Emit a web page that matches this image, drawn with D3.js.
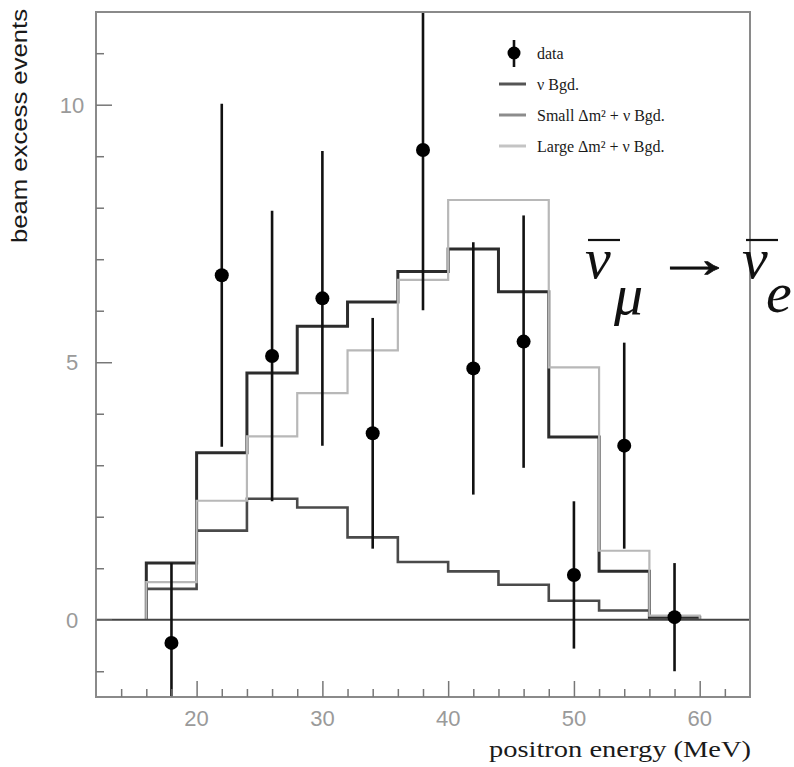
<!DOCTYPE html>
<html>
<head>
<meta charset="utf-8">
<script src="https://cdn.jsdelivr.net/npm/d3@7"></script>
<style>
  html, body { margin: 0; padding: 0; background: #fff; }
  svg { display: block; }
</style>
</head>
<body>
<svg id="chart" width="794" height="767"></svg>
<script>
// ---- data ----
const binEdges = [16, 20, 24, 28, 32, 36, 40, 44, 48, 52, 56, 60];
const nuBgd    = [0.60, 1.73, 2.35, 2.18, 1.60, 1.12, 0.94, 0.68, 0.37, 0.18, 0.05];
const smallDm2 = [1.10, 3.24, 4.79, 5.70, 6.17, 6.76, 7.20, 6.37, 3.55, 0.94, 0.05];
const largeDm2 = [0.73, 2.31, 3.56, 4.40, 5.23, 6.60, 8.15, 8.15, 4.90, 1.34, 0.08];
const dataE    = [18, 22, 26, 30, 34, 38, 42, 46, 50, 54, 58];
const dataVal  = [-0.45, 6.69, 5.12, 6.24, 3.62, 9.12, 4.88, 5.40, 0.87, 3.38, 0.05];
const dataErr  = [1.55, 3.33, 2.82, 2.86, 2.24, 3.11, 2.45, 2.45, 1.43, 2.00, 1.05];
const xMajorTicks = [20, 30, 40, 50, 60];
const yMajorTicks = [0, 5, 10];
const legendLabels = ["data", "ν Bgd.", "Small Δm² + ν Bgd.", "Large Δm² + ν Bgd."];
const xTitle = "positron energy (MeV)";
const yTitle = "beam excess events";

// ---- layout ----
const L = 96, R = 750, T = 12, B = 697;
const svg = d3.select("#chart");
const x = d3.scaleLinear().domain([12, 64]).range([L, R]);
const y = d3.scaleLinear().domain([-1.5, 11.8]).range([B, T]);

svg.append("defs").append("clipPath").attr("id", "clip")
  .append("rect").attr("x", L).attr("y", T).attr("width", R - L).attr("height", B - T);

const plot = svg.append("g").attr("clip-path", "url(#clip)");

// histograms
function histPath(vals) {
  const pts = [[binEdges[0], 0]];
  vals.forEach((v, i) => { pts.push([binEdges[i], v]); pts.push([binEdges[i + 1], v]); });
  pts.push([binEdges[binEdges.length - 1], 0]);
  return d3.line().x(d => x(d[0])).y(d => y(d[1]))(pts);
}
const series = [
  { vals: nuBgd, color: "#4a4a4a", w: 2.6 },
  { vals: smallDm2, color: "#2c2c2c", w: 3 },
  { vals: largeDm2, color: "#b8b8b8", w: 2.2 }
];
series.forEach(s => {
  plot.append("path").attr("d", histPath(s.vals))
    .attr("fill", "none").attr("stroke", s.color).attr("stroke-width", s.w);
});

// zero line
plot.append("line").attr("x1", L).attr("x2", R).attr("y1", y(0)).attr("y2", y(0))
  .attr("stroke", "#444").attr("stroke-width", 2);

// data points
const pts = plot.append("g");
dataE.forEach((e, i) => {
  pts.append("line").attr("x1", x(e)).attr("x2", x(e))
    .attr("y1", y(dataVal[i] - dataErr[i])).attr("y2", y(dataVal[i] + dataErr[i]))
    .attr("stroke", "#111").attr("stroke-width", 2.6);
  pts.append("circle").attr("cx", x(e)).attr("cy", y(dataVal[i])).attr("r", 7).attr("fill", "#000");
});

// frame
svg.append("rect").attr("x", L).attr("y", T).attr("width", R - L).attr("height", B - T)
  .attr("fill", "none").attr("stroke", "#8a8a8a").attr("stroke-width", 2);

// axes ticks (inward)
const yAxis = d3.axisRight(y).tickValues(d3.range(-1, 12)).tickSize(0).tickFormat("");
const yg = svg.append("g").attr("transform", `translate(${L},0)`).call(yAxis);
yg.select(".domain").remove();
yg.selectAll(".tick").append("line")
  .attr("x1", 0).attr("x2", d => yMajorTicks.includes(d) ? 16 : 8)
  .attr("stroke", "#777").attr("stroke-width", 1.5);

const xAxis = d3.axisTop(x).tickValues(d3.range(14, 64, 2)).tickSize(0).tickFormat("");
const xg = svg.append("g").attr("transform", `translate(0,${B})`).call(xAxis);
xg.select(".domain").remove();
xg.selectAll(".tick").append("line")
  .attr("y1", 0).attr("y2", d => xMajorTicks.includes(d) ? -16 : -8)
  .attr("stroke", "#777").attr("stroke-width", 1.5);

// tick labels
svg.append("g").selectAll("text").data(yMajorTicks).join("text")
  .attr("x", 72).attr("y", d => y(d)).attr("dy", "0.36em")
  .attr("text-anchor", "middle")
  .attr("font-family", "Liberation Sans, Arial, sans-serif").attr("font-size", 22)
  .attr("fill", "#9a9a9a").text(d => d);
svg.append("g").selectAll("text").data(xMajorTicks).join("text")
  .attr("x", d => x(d)).attr("y", 726)
  .attr("text-anchor", "middle")
  .attr("font-family", "Liberation Sans, Arial, sans-serif").attr("font-size", 22)
  .attr("fill", "#9a9a9a").text(d => d);

// axis titles
svg.append("text").attr("transform", "translate(27,126) rotate(-90)")
  .attr("text-anchor", "middle")
  .attr("font-family", "Liberation Sans, Arial, sans-serif").attr("font-size", 22)
  .attr("textLength", 234).attr("lengthAdjust", "spacingAndGlyphs")
  .attr("fill", "#1a1a1a").text(yTitle);
svg.append("text").attr("x", 751).attr("y", 757).attr("text-anchor", "end")
  .attr("font-family", "Liberation Serif, Times New Roman, serif").attr("font-size", 24)
  .attr("textLength", 262).attr("lengthAdjust", "spacingAndGlyphs")
  .attr("fill", "#1a1a1a").text(xTitle);

// legend
const lg = svg.append("g");
const rowY = [53, 84, 115, 146];
lg.append("line").attr("x1", 514).attr("x2", 514).attr("y1", 40).attr("y2", 67)
  .attr("stroke", "#111").attr("stroke-width", 2.6);
lg.append("circle").attr("cx", 514).attr("cy", rowY[0]).attr("r", 6.5).attr("fill", "#000");
const legendColors = ["#555", "#8c8c8c", "#c4c4c4"];
legendColors.forEach((c, i) => {
  lg.append("line").attr("x1", 499).attr("x2", 526).attr("y1", rowY[i + 1]).attr("y2", rowY[i + 1])
    .attr("stroke", c).attr("stroke-width", 3);
});
legendLabels.forEach((t, i) => {
  lg.append("text").attr("x", 537).attr("y", rowY[i]).attr("dy", "0.35em")
    .attr("font-family", "Liberation Serif, Times New Roman, serif").attr("font-size", 16)
    .attr("fill", "#1a1a1a").text(t);
});

// annotation  ν̄μ → ν̄e
const ann = svg.append("g").attr("font-family", "Liberation Serif, Times New Roman, serif")
  .attr("font-style", "italic").attr("fill", "#111");
ann.append("text").attr("x", 585).attr("y", 278).attr("font-size", 58).text("ν");
ann.append("text").attr("x", 614).attr("y", 314).attr("font-size", 58).text("μ");
ann.append("text").attr("transform", "translate(654,277) scale(1.5,1)")
  .attr("font-size", 54).attr("font-style", "normal")
  .attr("stroke", "#111").attr("stroke-width", 0.8).text("→");
ann.append("text").attr("x", 742).attr("y", 278).attr("font-size", 58).text("ν");
ann.append("text").attr("x", 766).attr("y", 312).attr("font-size", 58).text("e");
ann.append("line").attr("x1", 588).attr("x2", 620).attr("y1", 240).attr("y2", 240)
  .attr("stroke", "#111").attr("stroke-width", 2.2);
ann.append("line").attr("x1", 746).attr("x2", 778).attr("y1", 240).attr("y2", 240)
  .attr("stroke", "#111").attr("stroke-width", 2.2);
</script>
</body>
</html>
